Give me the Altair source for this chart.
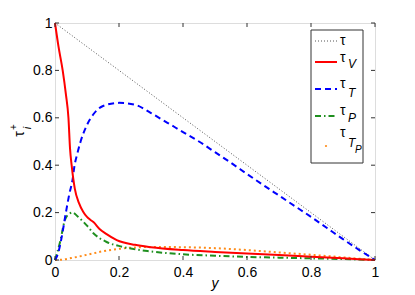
import altair as alt
import pandas as pd

# ---- data ----
x_ticks = [0, 0.2, 0.4, 0.6, 0.8, 1.0]
y_ticks = [0, 0.2, 0.4, 0.6, 0.8, 1.0]

tau_x = [0, 1]
tau_v = [1, 0]

tauV_x = [0, 0.011, 0.024, 0.034, 0.042, 0.047, 0.052, 0.062, 0.075, 0.088, 0.1, 0.11,
          0.12, 0.14, 0.16, 0.193, 0.25, 0.3, 0.4, 0.5, 0.6, 0.7, 0.8, 0.9, 1.0]
tauV_v = [1, 0.9, 0.8, 0.7, 0.6, 0.47, 0.4, 0.3, 0.24, 0.204, 0.182, 0.17,
          0.16, 0.13, 0.11, 0.084, 0.064, 0.054, 0.042, 0.034, 0.027, 0.021, 0.014, 0.007, 0]

tauT_x = [0, 0.01, 0.02, 0.034, 0.045, 0.055, 0.06, 0.07, 0.08, 0.1, 0.12, 0.15, 0.2, 0.25,
          0.3, 0.35, 0.4, 0.45, 0.5, 0.55, 0.6, 0.65, 0.7, 0.75, 0.8, 0.85, 0.9, 0.95, 1.0]
tauT_v = [0, 0.03, 0.09, 0.2, 0.28, 0.34, 0.39, 0.45, 0.5, 0.57, 0.615, 0.65, 0.663, 0.655,
          0.62, 0.58, 0.54, 0.5, 0.455, 0.41, 0.363, 0.317, 0.272, 0.227, 0.182, 0.135, 0.088, 0.043, 0]

tauP_x = [0, 0.016, 0.031, 0.045, 0.055, 0.07, 0.088, 0.1, 0.12, 0.16, 0.21, 0.3, 0.4,
          0.5, 0.6, 0.7, 0.8, 0.9, 1.0]
tauP_v = [0, 0.077, 0.169, 0.195, 0.2, 0.185, 0.162, 0.145, 0.113, 0.077, 0.056, 0.036, 0.024,
          0.018, 0.013, 0.01, 0.007, 0.004, 0]

tauTP_x = [0, 0.02, 0.05, 0.1, 0.15, 0.2, 0.25, 0.3, 0.4, 0.5, 0.6, 0.7, 0.8, 0.9, 1.0]
tauTP_v = [0, 0.001, 0.008, 0.022, 0.037, 0.047, 0.053, 0.055, 0.054, 0.05, 0.042, 0.032,
           0.022, 0.011, 0]

W, H = 320, 237
FONT = "Liberation Sans"

xaxis = alt.Axis(values=x_ticks, format=".1~f", ticks=False, domain=False, grid=False,
                 labelFontSize=14, labelFont=FONT, labelColor="black", labelPadding=5,
                 title=None, labelFlush=False)
yaxis = alt.Axis(values=y_ticks, format=".1~f", ticks=False, domain=False, grid=False,
                 labelFontSize=14, labelFont=FONT, labelColor="black", labelPadding=3,
                 title=None, labelFlush=False)
xs = alt.Scale(domain=[0, 1], nice=False, zero=False)
ys = alt.Scale(domain=[0, 1], nice=False, zero=False)


def line_layer(xv, vv, color, width, dash=None):
    df = pd.DataFrame({"y": xv, "v": vv})
    kw = dict(color=color, strokeWidth=width, interpolate="monotone")
    if dash:
        kw["strokeDash"] = dash
    return alt.Chart(df).mark_line(**kw).encode(
        x=alt.X("y:Q", scale=xs, axis=xaxis),
        y=alt.Y("v:Q", scale=ys, axis=yaxis),
    )


one = pd.DataFrame({"a": [0]})


def txt(s, x, y, size=14, italic=False, angle=0, align="left", baseline="alphabetic"):
    kw = dict(text=s, fontSize=size, font=FONT, color="black", align=align, baseline=baseline)
    if italic:
        kw["fontStyle"] = "italic"
    if angle:
        kw["angle"] = angle
    return alt.Chart(one).mark_text(**kw).encode(x=alt.value(x), y=alt.value(y))


def seg(x1, x2, y1, y2, color, width, dash=None):
    kw = dict(color=color, strokeWidth=width)
    if dash:
        kw["strokeDash"] = dash
    return alt.Chart(one).mark_rule(**kw).encode(
        x=alt.value(x1), x2=alt.value(x2), y=alt.value(y1), y2=alt.value(y2))


GREEN = "#1f8f1f"
ORANGE = "#ff8c1a"
TICKC = "#333333"

lines = [
    line_layer(tau_x, tau_v, "#555555", 1, [1, 2]),
    line_layer(tauTP_x, tauTP_v, ORANGE, 2, [2, 3]),
    line_layer(tauP_x, tauP_v, GREEN, 2, [6, 3, 1.5, 3]),
    line_layer(tauT_x, tauT_v, "#0000ff", 2, [6, 4]),
    line_layer(tauV_x, tauV_v, "#ff0000", 2),
]

xt = pd.DataFrame({"t": x_ticks})
yt = pd.DataFrame({"t": y_ticks})
ticks = [
    alt.Chart(xt).mark_rule(color=TICKC, strokeWidth=1).encode(
        x=alt.X("t:Q", scale=xs, axis=xaxis), y=alt.value(H), y2=alt.value(H - 4)),
    alt.Chart(xt).mark_rule(color=TICKC, strokeWidth=1).encode(
        x=alt.X("t:Q", scale=xs, axis=xaxis), y=alt.value(0), y2=alt.value(4)),
    alt.Chart(yt).mark_rule(color=TICKC, strokeWidth=1).encode(
        y=alt.Y("t:Q", scale=ys, axis=yaxis), x=alt.value(0), x2=alt.value(4)),
    alt.Chart(yt).mark_rule(color=TICKC, strokeWidth=1).encode(
        y=alt.Y("t:Q", scale=ys, axis=yaxis), x=alt.value(W), x2=alt.value(W - 4)),
]

legend_box = alt.Chart(one).mark_rect(fill="white", stroke=TICKC, strokeWidth=1).encode(
    x=alt.value(256), x2=alt.value(308), y=alt.value(7), y2=alt.value(140))

legend = [
    legend_box,
    seg(260, 282, 18, 18, "#555555", 1, [1, 2]),
    seg(260, 282, 39, 39, "#ff0000", 2),
    seg(260, 282, 66, 66, "#0000ff", 2, [6, 4]),
    seg(260, 282, 93, 93, GREEN, 2, [6, 3, 1.5, 3]),
    alt.Chart(one).mark_point(filled=True, color=ORANGE, size=5, opacity=1).encode(
        x=alt.value(271), y=alt.value(123)),
    txt("τ", 285, 22),
    txt("τ", 285, 39), txt("V", 293, 45, 12, True),
    txt("τ", 285, 65), txt("T", 293, 74, 12, True),
    txt("τ", 285, 92), txt("P", 293, 99, 12, True),
    txt("τ", 285, 114), txt("T", 293, 124, 12, True), txt("P", 300, 130, 10, True),
]

titles = [
    txt("y", 160, 265, 14, True, align="center"),
    txt("τ", -35, 111, 14, angle=270, align="center", baseline="middle"),
    txt("+", -41, 104, 10, angle=270, align="center", baseline="middle"),
    txt("i", -27, 105, 11, True, angle=270, align="center", baseline="middle"),
]

chart = alt.layer(*lines, *ticks, *legend, *titles).properties(
    width=W, height=H,
    autosize=alt.AutoSizeParams(type="none"),
    padding={"left": 47, "top": 15, "right": 32, "bottom": 34},
).configure_view(stroke=TICKC, strokeWidth=1).configure(background="white")

chart.save("out.html", embed_options={"renderer": "svg", "actions": False})
